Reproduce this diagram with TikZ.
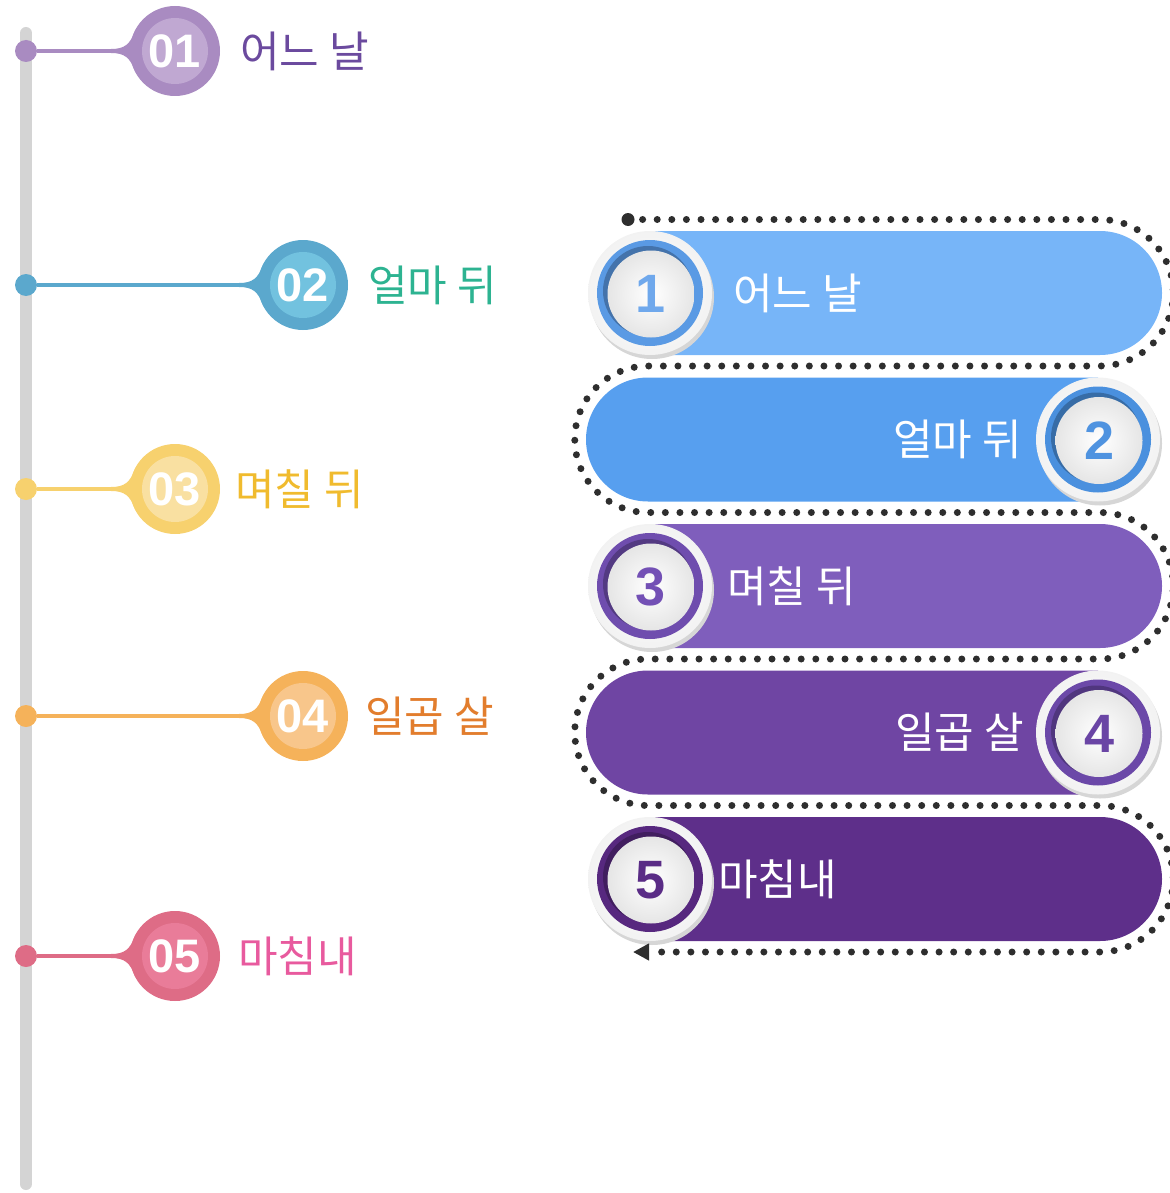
\documentclass[tikz,border=0pt]{standalone}
\usepackage{fontspec}
\setmainfont{Liberation Sans}
\newfontfamily\kofont{Noto Sans CJK KR}
\usetikzlibrary{positioning,calc,shapes.misc,arrows.meta}

\definecolor{barGray}{HTML}{D4D4D4}
\definecolor{dotGray}{HTML}{2E2E2E}
% timeline colours: outer / inner / label
\definecolor{purO}{HTML}{A98BC1}\definecolor{purI}{HTML}{C0A8D2}\definecolor{purT}{HTML}{6B4A9E}
\definecolor{bluO}{HTML}{5BA8CD}\definecolor{bluI}{HTML}{72C2DF}\definecolor{bluT}{HTML}{2DB391}
\definecolor{yelO}{HTML}{F7D16E}\definecolor{yelI}{HTML}{F9E0A1}\definecolor{yelT}{HTML}{F0BB2E}
\definecolor{orgO}{HTML}{F5B25A}\definecolor{orgI}{HTML}{F8C68B}\definecolor{orgT}{HTML}{E27D2D}
\definecolor{pnkO}{HTML}{DE6C86}\definecolor{pnkI}{HTML}{E97C99}\definecolor{pnkT}{HTML}{E85A9E}
% band colours: fill / ring / number
\definecolor{bandA}{HTML}{77B5F8}\definecolor{ringA}{HTML}{5A9AE4}\definecolor{numA}{HTML}{6FA8EC}
\definecolor{bandB}{HTML}{579FEF}\definecolor{ringB}{HTML}{4A90DE}\definecolor{numB}{HTML}{4F93E0}
\definecolor{bandC}{HTML}{7F5EBC}\definecolor{ringC}{HTML}{6F4DAE}\definecolor{numC}{HTML}{7350B5}
\definecolor{bandD}{HTML}{6F45A3}\definecolor{ringD}{HTML}{6B48A8}\definecolor{numD}{HTML}{6A45A5}
\definecolor{bandE}{HTML}{5E2F8A}\definecolor{ringE}{HTML}{57287F}\definecolor{numE}{HTML}{5A2C86}

\begin{document}
\begin{tikzpicture}[
    x=1pt, y=-1pt,
    pin/.style={circle, inner sep=0pt, minimum size=22pt},
    bubble/.style={circle, inner sep=0pt, minimum size=90pt},
    core/.style={circle, inner sep=0pt, minimum size=66pt, text=white, font=\fontsize{47}{47}\selectfont\bfseries},
    tag/.style={inner sep=0pt, font=\kofont\fontsize{43}{43}\selectfont},
    band/.style={rounded rectangle, inner sep=0pt, minimum width=512pt, minimum height=124pt},
    bandR/.style={band, rounded rectangle left arc=none},
    bandL/.style={band, rounded rectangle right arc=none},
    disc/.style={circle, inner sep=0pt},
    bandtext/.style={inner sep=0pt, text=white, font=\kofont\fontsize{43}{43}\selectfont},
    route/.style={draw=dotGray, line width=7pt, line cap=round, dash pattern=on 0pt off 14.6pt}
]
    \useasboundingbox (0,0) rectangle (1169,1193);

    % Timeline bar
    \draw[line width=12pt, line cap=round, barGray] (26,33) -- (26,1184);

    % Timeline stops
    \foreach \i/\y/\cx/\oc/\ic/\tc/\g/\lbl in {1/51/175/purO/purI/purT/20pt/어느 날,
            2/285/303/bluO/bluI/bluT/20pt/얼마 뒤,
            3/489/175/yelO/yelI/yelT/15pt/며칠 뒤,
            4/716/303/orgO/orgI/orgT/17pt/일곱 살,
            5/956/175/pnkO/pnkI/pnkT/18pt/마침내} {
        \node[pin, fill=\oc] (d\i) at (26,\y) {};
        \node[bubble, fill=\oc] (c\i) at (\cx,\y) {};
        \draw[line width=4pt, \oc] (d\i) -- (c\i);
        \fill[\oc] ($(c\i)+(-64,-2)$) .. controls ($(c\i)+(-50,-2)$) and ($(c\i)+(-45,-7)$) .. ($(c\i)+(-40,-20)$)
            -- ($(c\i)+(-40,20)$) .. controls ($(c\i)+(-45,7)$) and ($(c\i)+(-50,2)$) .. ($(c\i)+(-64,2)$) -- cycle;
        \node[core, fill=\ic] (n\i) at (c\i) {0\i};
        \node[tag, text=\tc, right=\g of c\i] (t\i) {\lbl};
    }

    % Bands
    \foreach \i/\y/\fc in {1/293/bandA, 3/586/bandC, 5/879/bandE}
        \node[bandR, fill=\fc] (b\i) at (906,\y) {};
    \foreach \i/\y/\fc in {2/439.5/bandB, 4/732.5/bandD}
        \node[bandL, fill=\fc] (b\i) at (842,\y) {};

    % Medallions
    \foreach \i/\x/\y/\rc/\nc in {1/650/293/ringA/numA, 2/1098/439.5/ringB/numB,
            3/650/586/ringC/numC, 4/1098/732.5/ringD/numD, 5/650/879/ringE/numE} {
        \node[disc, minimum size=124pt, fill=black!16] at ($(\x,\y)+(2,4)$) {};
        \node[disc, minimum size=124pt, inner color=white, outer color=black!5] (m\i) at (\x,\y) {};
        \node[disc, minimum size=106pt, fill=\rc] at (m\i) {};
        \node[disc, minimum size=90pt, fill=\rc!75!black] at ($(m\i)+(-2,-2)$) {};
        \node[disc, minimum size=87pt, inner color=white, outer color=black!10, text=\nc,
            font=\fontsize{54}{54}\selectfont\bfseries] (k\i) at ($(m\i)+(1,1)$) {\i};
    }

    % Band labels
    \node[bandtext, right=21pt of m1] (l1) {어느 날};
    \node[bandtext, left=14pt of m2] (l2) {얼마 뒤};
    \node[bandtext, right=15pt of m3] (l3) {며칠 뒤};
    \node[bandtext, left=12pt of m4] (l4) {일곱 살};
    \node[bandtext, right=6pt of m5] (l5) {마침내};

    % Dotted route
    \node[disc, fill=dotGray, minimum size=13pt] (start) at (628,219.5) {};
    \draw[route, -{Triangle[length=16pt, width=16pt]}] (start.center) -- (1100,219.5)
        arc[start angle=-90, end angle=90, radius=73.25] -- (648,366)
        arc[start angle=270, end angle=90, radius=73.25] -- (1100,512.5)
        arc[start angle=-90, end angle=90, radius=73.25] -- (648,659)
        arc[start angle=270, end angle=90, radius=73.25] -- (1100,805.5)
        arc[start angle=-90, end angle=90, radius=73.25] -- (633,952);

\end{tikzpicture}
\end{document}
